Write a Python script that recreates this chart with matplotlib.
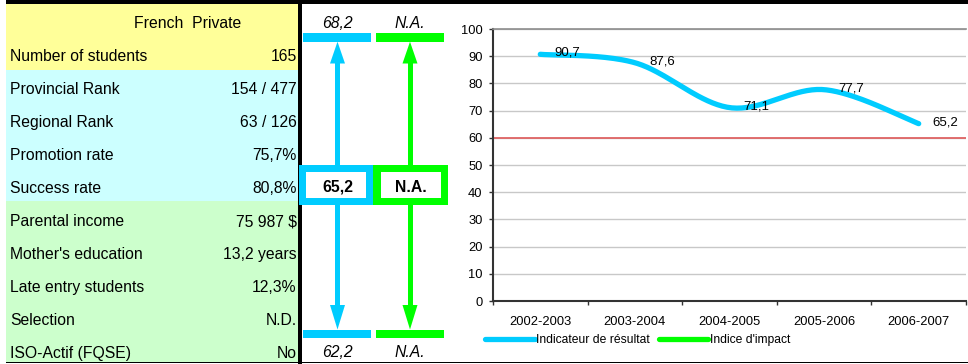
import numpy as np
import matplotlib
matplotlib.use("Agg")
import matplotlib.pyplot as plt
from matplotlib.patches import Rectangle, Polygon

plt.rcParams['font.family'] = ['Liberation Sans', 'DejaVu Sans']

# ---------------- data ----------------
header_text = "French  Private"
row_labels = ["Number of students", "Provincial Rank", "Regional Rank", "Promotion rate",
              "Success rate", "Parental income", "Mother's education", "Late entry students",
              "Selection", "ISO-Actif (FQSE)"]
row_values = ["165", "154 / 477", "63 / 126", "75,7%", "80,8%", "75 987 $", "13,2 years",
              "12,3%", "N.D.", "No"]

result_upper = "68,2"
result_current = "65,2"
result_lower = "62,2"
impact_upper = "N.A."
impact_current = "N.A."
impact_lower = "N.A."

years = ["2002-2003", "2003-2004", "2004-2005", "2005-2006", "2006-2007"]
indicateur = [90.7, 87.6, 71.1, 77.7, 65.2]
impact = [np.nan, np.nan, np.nan, np.nan, np.nan]
threshold = 60
value_labels = ["90,7", "87,6", "71,1", "77,7", "65,2"]
series_names = ["Indicateur de résultat", "Indice d'impact"]

# ---------------- styles ----------------
W, H = 968, 364
C_YEL = "#FFFF99"
C_CYA = "#CCFFFF"
C_GRN = "#CCFFCC"
C_BLUE = "#00CCFF"
C_LIME = "#00FF00"

fig = plt.figure(figsize=(W / 100, H / 100), dpi=100)
bg = fig.add_axes([0, 0, 1, 1])
bg.set_xlim(0, W)
bg.set_ylim(H, 0)
bg.axis("off")

# table background bands
bg.add_patch(Rectangle((6, 4), 292, 66, color=C_YEL, lw=0))
bg.add_patch(Rectangle((6, 70), 292, 131, color=C_CYA, lw=0))
bg.add_patch(Rectangle((6, 201), 292, 161, color=C_GRN, lw=0))

row_step = 33.0
y_first = 56.5
bg.text(188, y_first - row_step, header_text, ha="center", va="center", fontsize=11.3)
for i, (lab, val) in enumerate(zip(row_labels, row_values)):
    yc = y_first + i * row_step
    bg.text(10, yc, lab, ha="left", va="center", fontsize=11.3)
    bg.text(296.5, yc, val, ha="right", va="center", fontsize=11.3)

# black frame pieces
bg.add_patch(Rectangle((6, 0), W - 6, 4, color="black", lw=0))
bg.add_patch(Rectangle((298, 4), 3.5, 360, color="black", lw=0))
bg.add_patch(Rectangle((6, 361.8), W - 6, 1.6, color="black", lw=0))

# middle panel: arrows
def arrow_column(xc, col, x0, x1):
    bg.add_patch(Rectangle((x0, 33.3), x1 - x0, 8.4, color=col, lw=0, zorder=3))
    bg.add_patch(Rectangle((x0, 329.5), x1 - x0, 8.0, color=col, lw=0, zorder=3))
    bg.add_patch(Rectangle((xc - 2.5, 60), 5, 110, color=col, lw=0, zorder=3))
    bg.add_patch(Rectangle((xc - 2.5, 200), 5, 110, color=col, lw=0, zorder=3))
    bg.add_patch(Polygon([(xc - 7.5, 63.5), (xc + 7.5, 63.5), (xc, 41.7)], closed=True,
                         color=col, lw=0, zorder=3))
    bg.add_patch(Polygon([(xc - 7.5, 305), (xc + 7.5, 305), (xc, 329.5)], closed=True,
                         color=col, lw=0, zorder=3))

arrow_column(337.5, C_BLUE, 302.7, 370.7)
arrow_column(410, C_LIME, 376, 443.5)

# boxes
bg.add_patch(Rectangle((299.3, 165), 74, 40, color=C_BLUE, lw=0, zorder=4))
bg.add_patch(Rectangle((306.3, 172), 60, 26.3, color="white", lw=0, zorder=5))
bg.add_patch(Rectangle((373.3, 165), 74.2, 40, color=C_LIME, lw=0, zorder=4))
bg.add_patch(Rectangle((380.7, 172), 60, 26.3, color="white", lw=0, zorder=5))
bg.text(337.5, 187, result_current, ha="center", va="center", fontsize=11.3, fontweight="bold", zorder=6)
bg.text(411, 187, impact_current, ha="center", va="center", fontsize=11.3, fontweight="bold", zorder=6)

bg.text(337, 23.5, result_upper, ha="center", va="center", fontsize=11.3, style="italic")
bg.text(410, 23.5, impact_upper, ha="center", va="center", fontsize=11.3, style="italic")
bg.text(337, 352.5, result_lower, ha="center", va="center", fontsize=11.3, style="italic")
bg.text(410, 352.5, impact_lower, ha="center", va="center", fontsize=11.3, style="italic")

# ---------------- chart ----------------
L, R, T, B = 493, 966, 29, 301
ax = fig.add_axes([L / W, (H - B) / H, (R - L) / W, (B - T) / H])
ax.set_xlim(0, len(years))
ax.set_ylim(0, 100)

def excel_smooth(xs, ys, n=40):
    P = np.column_stack([xs, ys]).astype(float)
    out = []
    m = len(P)
    for i in range(m - 1):
        p0 = P[i - 1] if i > 0 else P[i]
        p1, p2 = P[i], P[i + 1]
        p3 = P[i + 2] if i + 2 < m else P[i + 1]
        c1 = p1 + (p2 - p0) / 6
        c2 = p2 - (p3 - p1) / 6
        t = np.linspace(0, 1, n)[:, None]
        seg = (1 - t) ** 3 * p1 + 3 * (1 - t) ** 2 * t * c1 + 3 * (1 - t) * t ** 2 * c2 + t ** 3 * p2
        out.append(seg if i == 0 else seg[1:])
    return np.vstack(out)

xpos = np.arange(len(years)) + 0.5
curve = excel_smooth(xpos, indicateur)

ax.set_yticks(np.arange(0, 101, 10))
ax.yaxis.grid(True, color="#C8C8C8", lw=1.0)
ax.set_axisbelow(True)
ax.axhline(threshold, color="#E06464", lw=1.3, zorder=2)
ax.plot(curve[:, 0], curve[:, 1], color=C_BLUE, lw=3.8, solid_capstyle="round",
        label=series_names[0], zorder=3)
ax.plot(xpos, impact, color=C_LIME, lw=3.8, solid_capstyle="round", label=series_names[1], zorder=3)

for x, v, s in zip(xpos, indicateur, value_labels):
    ax.annotate(s, (x, v), xytext=(10.2, 1), textcoords="offset points",
                ha="left", va="center", fontsize=9.5, zorder=4)

ax.set_xticks(np.arange(0, len(years) + 1))
ax.set_xticklabels([])
ax.set_xticks(xpos, minor=True)
ax.set_xticklabels(years, minor=True, fontsize=9.3)
ax.tick_params(axis="x", which="major", length=3, width=1, color="#333333", direction="out")
ax.tick_params(axis="x", which="minor", length=0, pad=10.5)
ax.tick_params(axis="y", length=3, width=1, color="#333333", direction="out", pad=4.5, labelsize=9.3)

for side in ["left", "bottom"]:
    ax.spines[side].set_color("#333333")
    ax.spines[side].set_linewidth(1.5)
ax.spines["top"].set_color("#8C8C8C")
ax.spines["top"].set_linewidth(1.2)
ax.spines["right"].set_visible(False)

fig.legend(loc="center left", bbox_to_anchor=(485 / W, 1 - 340 / H), bbox_transform=fig.transFigure,
           ncol=2, frameon=False, fontsize=8.7, handlelength=4.1, handletextpad=0.15,
           columnspacing=0.7, borderpad=0, borderaxespad=0)

fig.savefig("out.png", dpi=100)
